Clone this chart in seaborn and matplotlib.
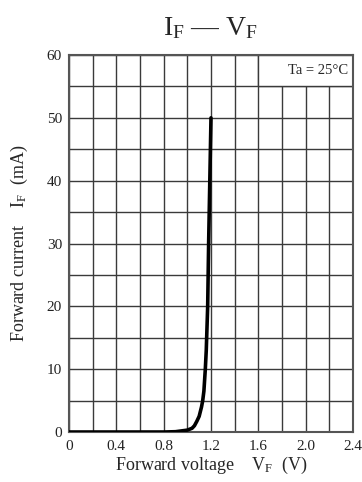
import seaborn as sns
import matplotlib.pyplot as plt
import matplotlib.ticker as ticker
from matplotlib.patches import Rectangle
import pandas as pd

# forward voltage (V) vs forward current (mA)
vf = [0.0, 0.8, 0.9, 1.0, 1.04, 1.06, 1.08, 1.10, 1.12, 1.13, 1.14, 1.152, 1.16, 1.172, 1.18, 1.19, 1.2]
i_f = [0.0, 0.0, 0.05, 0.3, 0.6, 1.0, 1.7, 2.5, 4.0, 5.0, 6.5, 10.0, 13.0, 20.0, 30.0, 40.0, 50.0]
x_ticks = [0, 0.4, 0.8, 1.2, 1.6, 2.0, 2.4]
x_labels = ['0', '0.4', '0.8', '1.2', '1.6', '2.0', '2.4']
y_ticks = [0, 10, 20, 30, 40, 50, 60]

df = pd.DataFrame({'VF': vf, 'IF': i_f})

sns.set_theme(style='white')
plt.rcParams['font.family'] = ['Liberation Serif', 'DejaVu Serif']
plt.rcParams['mathtext.fontset'] = 'custom'
plt.rcParams['mathtext.rm'] = 'Liberation Serif'
plt.rcParams['mathtext.it'] = 'Liberation Serif'

fig = plt.figure(figsize=(3.62, 4.82), dpi=100)
ax = fig.add_axes([0.1906, 0.1037, 0.7845, 0.7822])

grid_col = '#3a3a3a'
sns.lineplot(data=df, x='VF', y='IF', color='black', linewidth=2.6, ax=ax, zorder=3)

ax.set_xlim(0, 2.4)
ax.set_ylim(0, 60)
ax.set_xticks(x_ticks)
ax.set_xticklabels(x_labels)
ax.set_yticks(y_ticks)
ax.xaxis.set_minor_locator(ticker.MultipleLocator(0.2))
ax.yaxis.set_minor_locator(ticker.MultipleLocator(5))
ax.grid(which='both', color=grid_col, linewidth=1.0)
ax.set_axisbelow(True)
ax.tick_params(which='both', length=0, labelsize=11, colors='#222222')
ax.tick_params(axis='x', pad=6)
ax.tick_params(axis='y', pad=5)
for s in ax.spines.values():
    s.set_color('#555555')
    s.set_linewidth(1.5)

# temperature note box
ax.add_patch(Rectangle((1.6, 55), 0.8, 5, facecolor='white', edgecolor=grid_col,
                       linewidth=1.0, zorder=1))
ax.text(2.36, 57.5, 'Ta = 25°C', ha='right', va='center', fontsize=10.5, zorder=2)

ax.set_title(r'$\mathrm{I_F}$ — $\mathrm{V_F}$', fontsize=20, pad=14)
ax.set_xlabel(r'Forward voltage    $\mathrm{V_F}$  (V)', fontsize=13, labelpad=1)
ax.set_ylabel(r'Forward current    $\mathrm{I_F}$  (mA)', fontsize=13, labelpad=12)

plt.savefig('out.png', dpi=100)
plt.close()
